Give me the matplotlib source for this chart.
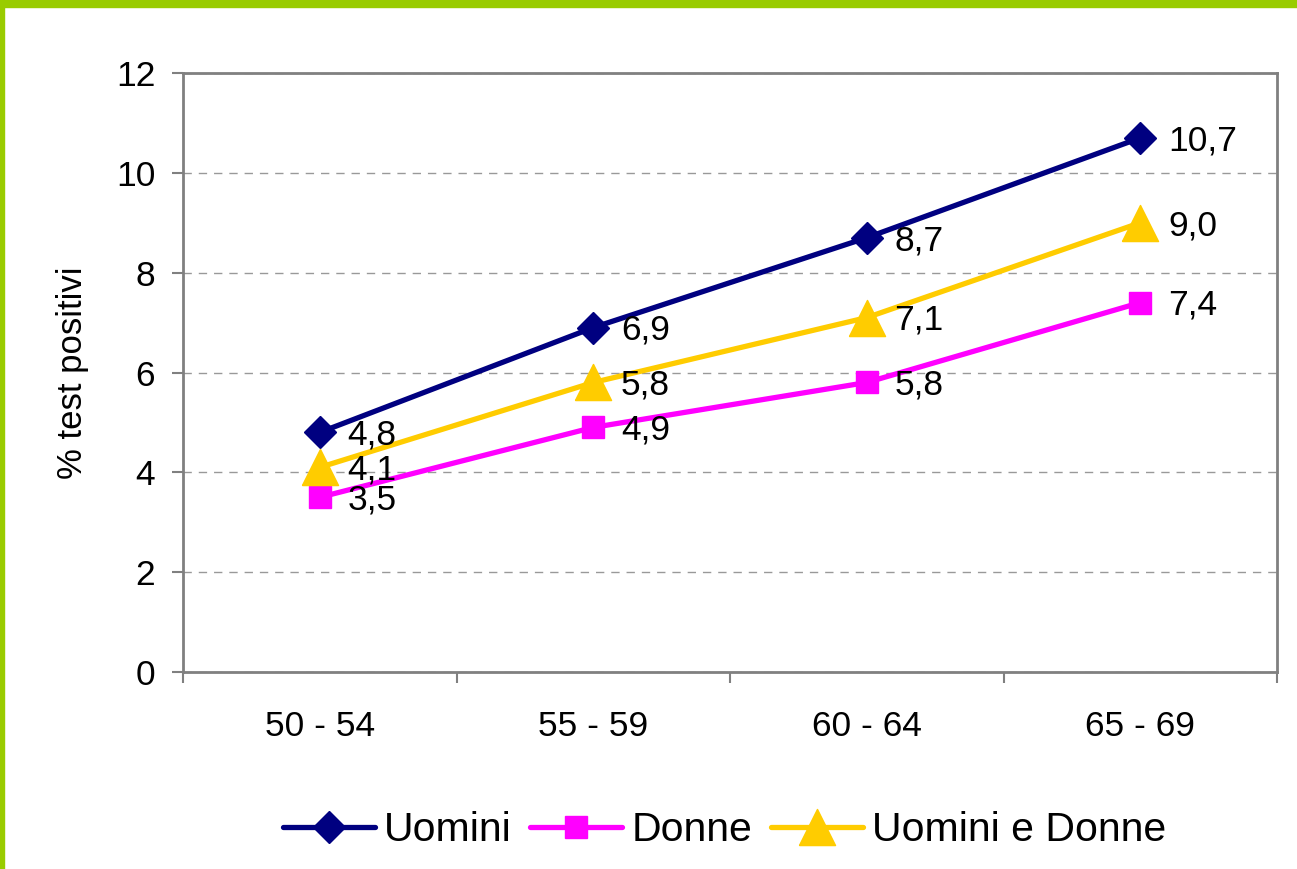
import matplotlib
matplotlib.use("Agg")
import matplotlib.pyplot as plt
from matplotlib.patches import Rectangle

# dati
fasce = ["50 - 54", "55 - 59", "60 - 64", "65 - 69"]
uomini = [4.8, 6.9, 8.7, 10.7]
donne = [3.5, 4.9, 5.8, 7.4]
uomini_donne = [4.1, 5.8, 7.1, 9.0]
y_ticks = [0, 2, 4, 6, 8, 10, 12]

plt.rcParams['font.family'] = ['Liberation Sans', 'DejaVu Sans']

fig = plt.figure(figsize=(12.97, 8.69), dpi=100)
ax = fig.add_axes([183/1297, 1 - 672/869, (1277 - 183)/1297, (672 - 73)/869])

# bordo verde in alto e a sinistra
fig.patches.append(Rectangle((0, 1 - 7/869), 1, 7/869, transform=fig.transFigure,
                             color="#99CC00", zorder=0))
fig.patches.append(Rectangle((0, 0), 4/1297, 1, transform=fig.transFigure,
                             color="#99CC00", zorder=0))

tri = [(-1, -1), (1, -1), (0, 1), (-1, -1)]
series = [
    ("Uomini", uomini, "#000080", "D", 16),
    ("Donne", donne, "#FF00FF", "s", 16),
    ("Uomini e Donne", uomini_donne, "#FFCC00", tri, 26),
]

x = [i + 0.5 for i in range(len(fasce))]
for name, vals, col, mk, ms in series:
    ax.plot(x, vals, color=col, lw=3.8, marker=mk, ms=ms, mfc=col, mec=col,
            mew=1, label=name, zorder=3, solid_capstyle="round")
    for xi, v in zip(x, vals):
        ax.annotate(f"{v:.1f}".replace(".", ","), (xi, v), xytext=(20, -2),
                    textcoords="offset points", ha="left", va="center",
                    fontsize=25.5, zorder=4)

ax.set_xlim(0, 4)
ax.set_ylim(0, 12)
ax.set_yticks(y_ticks)
ax.set_xticks(x)
ax.set_xticklabels(fasce)
ax.set_xticks(range(5), minor=True)
ax.tick_params(axis="x", which="major", length=0, pad=27, labelsize=25.5)
ax.tick_params(axis="x", which="minor", length=8, width=1.5, color="#808080",
               direction="out")
ax.tick_params(axis="y", length=8, width=1.5, color="#808080", pad=12,
               labelsize=25.5)

for sp in ax.spines.values():
    sp.set_color("#808080")
    sp.set_linewidth(2)

ax.grid(axis="y", color="#999999", linestyle=(0, (6, 5)), linewidth=1)
ax.set_axisbelow(True)
ax.set_ylabel("% test positivi", fontsize=25, labelpad=19)

fig.legend(loc="center", bbox_to_anchor=(0.5586, 0.045), ncol=3, frameon=False,
           fontsize=29.5, handlelength=2.25, handletextpad=0.22, columnspacing=0.45,
           numpoints=1)

fig.savefig("out.png", dpi=100)
